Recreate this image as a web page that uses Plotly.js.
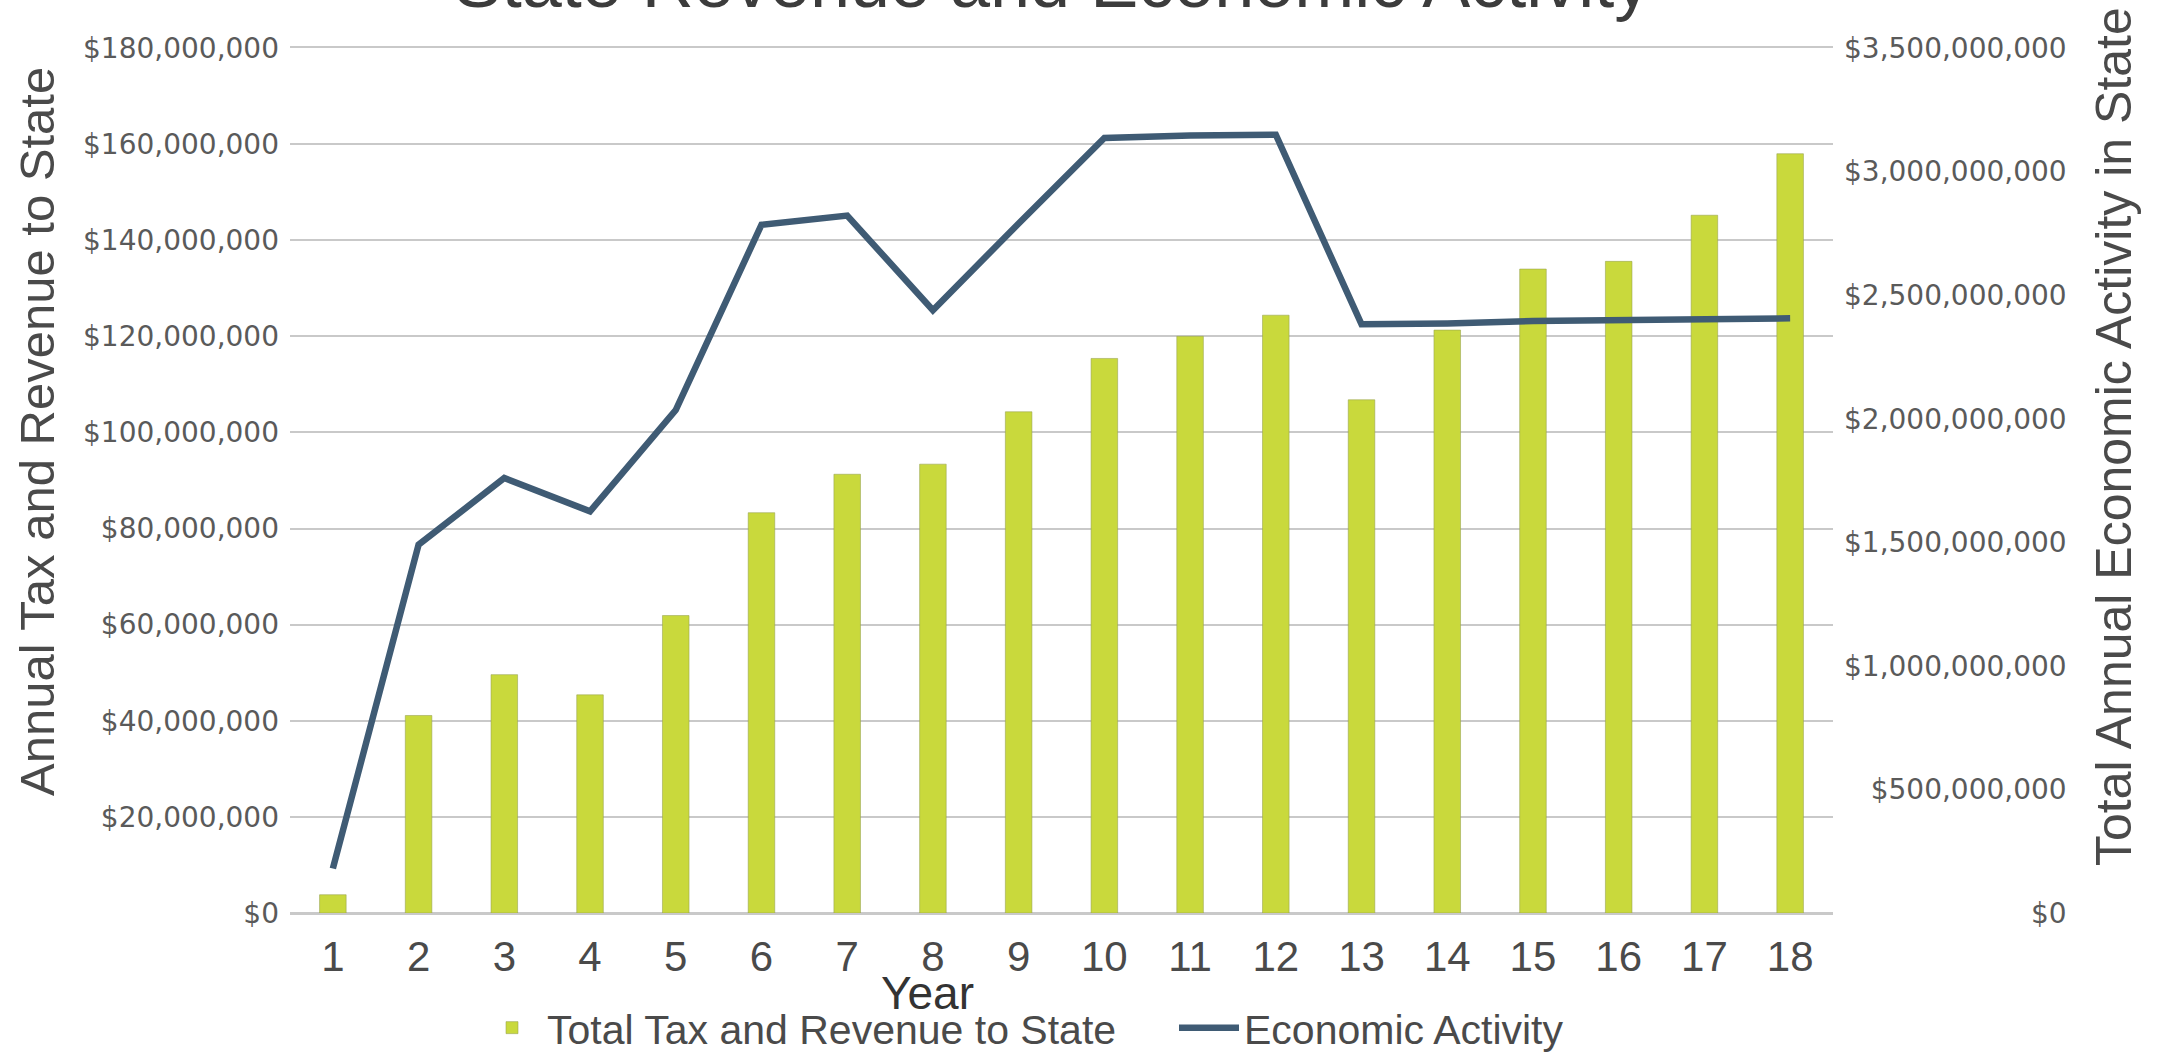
<!DOCTYPE html>
<html>
<head>
<meta charset="utf-8">
<script src="https://cdn.plot.ly/plotly-3.0.1.min.js"></script>
<style>
  html, body { margin: 0; padding: 0; background: #ffffff; }
  #chart { width: 2164px; height: 1053px; }
</style>
</head>
<body>
<div id="chart"></div>
<script>
// ---- data ----
const years = ["1","2","3","4","5","6","7","8","9","10","11","12","13","14","15","16","17","18"];
const taxRevenue = [3.8e6, 41.1e6, 49.6e6, 45.4e6, 61.9e6, 83.3e6, 91.3e6, 93.4e6, 104.3e6,
                    115.4e6, 120.0e6, 124.4e6, 106.8e6, 121.3e6, 134.0e6, 135.6e6, 145.2e6, 158.0e6];
const economicActivity = [0.18e9, 1.49e9, 1.76e9, 1.625e9, 2.035e9, 2.785e9, 2.822e9, 2.439e9, 2.79e9,
                          3.136e9, 3.146e9, 3.149e9, 2.382e9, 2.385e9, 2.395e9, 2.398e9, 2.407e9, 2.406e9];
const leftTickValues = [0, 20e6, 40e6, 60e6, 80e6, 100e6, 120e6, 140e6, 160e6, 180e6];
const leftTickLabels = ["$0","$20,000,000","$40,000,000","$60,000,000","$80,000,000","$100,000,000",
                        "$120,000,000","$140,000,000","$160,000,000","$180,000,000"];
const rightTickValues = [0, 0.5e9, 1.0e9, 1.5e9, 2.0e9, 2.5e9, 3.0e9, 3.5e9];
const rightTickLabels = ["$0","$500,000,000","$1,000,000,000","$1,500,000,000","$2,000,000,000",
                         "$2,500,000,000","$3,000,000,000","$3,500,000,000"];
const barName = "Total Tax and Revenue to State";
const lineName = "Economic Activity";
const chartTitle = "State Revenue and Economic Activity";
const leftAxisTitle = "Annual Tax and Revenue to State";
const rightAxisTitle = "Total Annual Economic Activity in State";
const xAxisTitle = "Year";

// right-align the right-axis labels by padding with figure / punctuation spaces
function countOf(s, re) { return (s.match(re) || []).length; }
const longest = rightTickLabels.reduce((a, b) => (b.length > a.length ? b : a));
const maxDigits = countOf(longest, /[0-9]/g), maxCommas = countOf(longest, /,/g);
const rightTickText = rightTickLabels.map(s =>
  "\u2007".repeat(maxDigits - countOf(s, /[0-9]/g)) +
  "\u2008".repeat(maxCommas - countOf(s, /,/g)) + s);

const W = 2164, H = 1053;
const M = { l: 290, r: 331, t: 48, b: 140 };
const plotW = W - M.l - M.r, plotH = H - M.t - M.b;
const px2paperX = x => (x - M.l) / plotW;
const px2paperY = y => (H - M.b - y) / plotH;

const SANS = "Liberation Sans, Arial, sans-serif";
const tickFont = { family: "DejaVu Sans", size: 28, color: "#5a5a5a" };
const gridColor = "#c9c9c9";

const traces = [
  {
    type: "bar",
    name: barName,
    x: years,
    y: taxRevenue,
    yaxis: "y",
    marker: { color: "#c9d93c", line: { color: "rgba(150,160,80,0.55)", width: 1 } },
    hoverinfo: "x+y"
  },
  {
    type: "scatter",
    mode: "lines",
    name: lineName,
    x: years,
    y: economicActivity,
    yaxis: "y2",
    line: { color: "#3f5b74", width: 6.5 },
    hoverinfo: "x+y"
  }
];

const layout = {
  width: W,
  height: H,
  margin: M,
  paper_bgcolor: "#ffffff",
  plot_bgcolor: "#ffffff",
  showlegend: true,
  bargap: 0.69,
  title: {
    text: chartTitle,
    font: { family: SANS, size: 72, color: "#3c3c3c" },
    xref: "container", yref: "container",
    x: 1052 / W, xanchor: "center",
    y: 1 - 7 / H, yanchor: "bottom"
  },
  xaxis: {
    type: "category",
    tickvals: years,
    showgrid: false,
    zeroline: false,
    showline: true,
    mirror: true,
    linecolor: gridColor,
    linewidth: 2,
    ticks: "",
    tickfont: { family: SANS, size: 42, color: "#4a4a4a" },
    ticklabelstandoff: 6,
    automargin: false
  },
  yaxis: {
    range: [0, 180e6],
    tickvals: leftTickValues,
    ticktext: leftTickLabels,
    showgrid: true,
    gridcolor: gridColor,
    gridwidth: 2,
    zeroline: true,
    zerolinecolor: gridColor,
    zerolinewidth: 2,
    showline: false,
    ticks: "",
    tickfont: tickFont,
    ticklabelstandoff: 10,
    automargin: false
  },
  yaxis2: {
    overlaying: "y",
    side: "right",
    range: [0, 3.5e9],
    tickvals: rightTickValues,
    ticktext: rightTickText,
    showgrid: false,
    zeroline: false,
    showline: false,
    ticks: "",
    tickfont: tickFont,
    ticklabelstandoff: 10,
    automargin: false
  },
  legend: {
    orientation: "h",
    xref: "container", yref: "container",
    x: 477 / W, xanchor: "left",
    y: 1 - 1028 / H, yanchor: "middle",
    font: { family: SANS, size: 41, color: "#4a4a4a" },
    itemwidth: 60,
    entrywidth: 622,
    entrywidthmode: "pixels",
    bgcolor: "rgba(0,0,0,0)"
  },
  annotations: [
    {
      text: xAxisTitle,
      xref: "paper", yref: "paper",
      x: px2paperX(927), y: px2paperY(993),
      xanchor: "center", yanchor: "middle",
      showarrow: false,
      font: { family: SANS, size: 46, color: "#333333" }
    },
    {
      text: leftAxisTitle,
      xref: "paper", yref: "paper",
      x: px2paperX(37), y: px2paperY(432),
      xanchor: "center", yanchor: "middle",
      textangle: -90,
      showarrow: false,
      font: { family: SANS, size: 49, color: "#4a4a4a" }
    },
    {
      text: rightAxisTitle,
      xref: "paper", yref: "paper",
      x: px2paperX(2114), y: px2paperY(437),
      xanchor: "center", yanchor: "middle",
      textangle: -90,
      showarrow: false,
      font: { family: SANS, size: 50, color: "#4a4a4a" }
    }
  ]
};

Plotly.newPlot("chart", traces, layout, { displayModeBar: false, staticPlot: true });
</script>
</body>
</html>
